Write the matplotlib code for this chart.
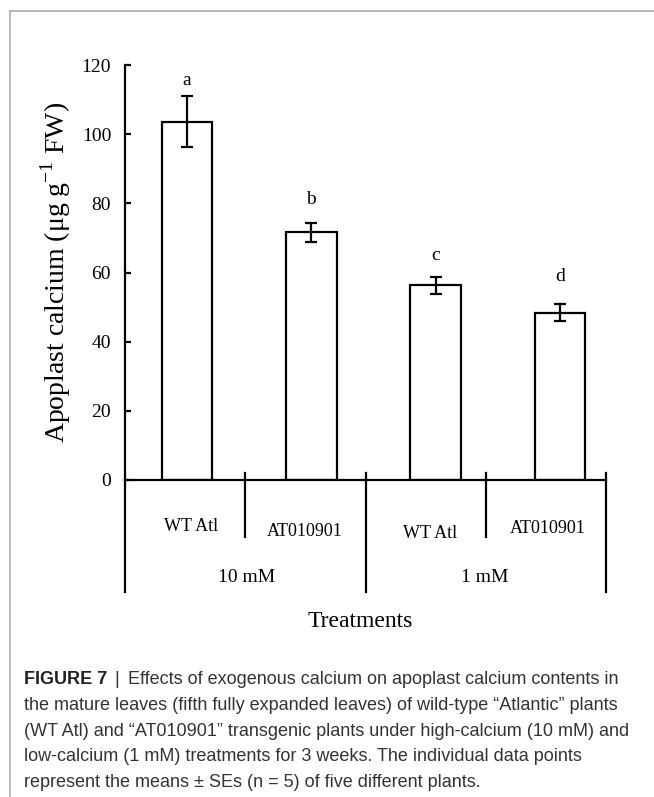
import matplotlib
matplotlib.use("Agg")
import matplotlib.pyplot as plt
from matplotlib.lines import Line2D

#----------------------------------------------------------------------------------------------------
# Data
#----------------------------------------------------------------------------------------------------
genotypes = ["WT Atl", "AT010901", "WT Atl", "AT010901"]
treatments = ["10 mM", "1 mM"]
calcium_mean = [103.6, 71.6, 56.3, 48.4]
calcium_se = [7.4, 2.7, 2.5, 2.4]
letters = ["a", "b", "c", "d"]

caption_lines = [
    "Effects of exogenous calcium on apoplast calcium contents in",
    "the mature leaves (fifth fully expanded leaves) of wild-type \u201cAtlantic\u201d plants",
    "(WT Atl) and \u201cAT010901\u201d transgenic plants under high-calcium (10 mM) and",
    "low-calcium (1 mM) treatments for 3 weeks. The individual data points",
    "represent the means \u00b1 SEs (n = 5) of five different plants.",
]

#----------------------------------------------------------------------------------------------------
# Figure
#----------------------------------------------------------------------------------------------------
W, H = 654, 797
fig = plt.figure(figsize=(W / 100, H / 100), dpi=100)
serif = "Liberation Serif"

ax = fig.add_axes([125 / W, 1 - 480 / H, 481 / W, 415 / H])
x = list(range(len(calcium_mean)))
ax.bar(x, calcium_mean, width=0.407, color="white", edgecolor="black", linewidth=1.6)
ax.errorbar(x, calcium_mean, yerr=calcium_se, fmt="none", ecolor="black",
            elinewidth=1.6, capsize=4, capthick=1.6)

# significance letters above the error bars
letter_offsets = [11, 17, 15, 20]
for xi, m, s, lab, off in zip(x, calcium_mean, calcium_se, letters, letter_offsets):
    ax.annotate(lab, (xi, m + s), xytext=(0, off), textcoords="offset points",
                ha="center", va="center", fontsize=14, family=serif)

ax.set_xlim(-0.5, 3.37)
ax.set_ylim(0, 120)
ax.set_yticks(range(0, 121, 20))
ax.tick_params(axis="y", direction="in", length=4.5, width=1.6, pad=10, labelsize=14)
ax.tick_params(axis="x", bottom=False, labelbottom=False)
for lbl in ax.get_yticklabels():
    lbl.set_family(serif)
for side in ["top", "right"]:
    ax.spines[side].set_visible(False)
ax.spines["left"].set_linewidth(1.6)
ax.spines["bottom"].set_linewidth(1.6)

ax.set_ylabel("Apoplast calcium (\u03bcg g$^{\\mathregular{-1}}$ FW)", fontsize=20,
              family=serif, labelpad=6)

#----------------------------------------------------------------------------------------------------
# Two-level category axis drawn under the plot
#----------------------------------------------------------------------------------------------------
tr = ax.transAxes
lw = 1.6
ax.add_line(Line2D([0, 0], [0, -0.27], transform=tr, color="black", lw=lw, clip_on=False))
for xf in [0.5, 1.0]:
    ax.add_line(Line2D([xf, xf], [0.017, -0.27], transform=tr, color="black", lw=lw, clip_on=False))
for xf in [0.25, 0.75]:
    ax.add_line(Line2D([xf, xf], [0.017, -0.138], transform=tr, color="black", lw=lw, clip_on=False))

geno_x = [0.137, 0.374, 0.634, 0.879]
geno_y = [-0.113, -0.125, -0.128, -0.116]
for name, gx, gy in zip(genotypes, geno_x, geno_y):
    ax.text(gx, gy, name, transform=tr, ha="center", va="center", fontsize=13, family=serif)

for name, tx in zip(treatments, [0.253, 0.748]):
    ax.text(tx, -0.234, name, transform=tr, ha="center", va="center", fontsize=14, family=serif)

ax.text(0.489, -0.341, "Treatments", transform=tr, ha="center", va="center",
        fontsize=17, family=serif)

#----------------------------------------------------------------------------------------------------
# Frame lines and caption
#----------------------------------------------------------------------------------------------------
frame_color = "#aaaaaa"
fig.add_artist(Line2D([9.5 / W, 1], [1 - 11 / H, 1 - 11 / H], color=frame_color, lw=1.2))
fig.add_artist(Line2D([9.5 / W, 9.5 / W], [0, 1 - 11 / H], color=frame_color, lw=1.2))

sans = "Liberation Sans"
cap_color = "#333333"
cap_size = 13
y0 = 680
fig.text(24 / W, 1 - y0 / H, "FIGURE 7", fontsize=cap_size, fontweight="bold",
         family=sans, color="#222222", va="center")
fig.text(114 / W, 1 - y0 / H, "|", fontsize=cap_size, family=sans, color=cap_color, va="center")
fig.text(128 / W, 1 - y0 / H, caption_lines[0], fontsize=cap_size,
         family=sans, color=cap_color, va="center")
for i, line in enumerate(caption_lines[1:], start=1):
    fig.text(24 / W, 1 - (y0 + 25.6 * i) / H, line, fontsize=cap_size,
             family=sans, color=cap_color, va="center")

fig.savefig("out.png", dpi=100)
